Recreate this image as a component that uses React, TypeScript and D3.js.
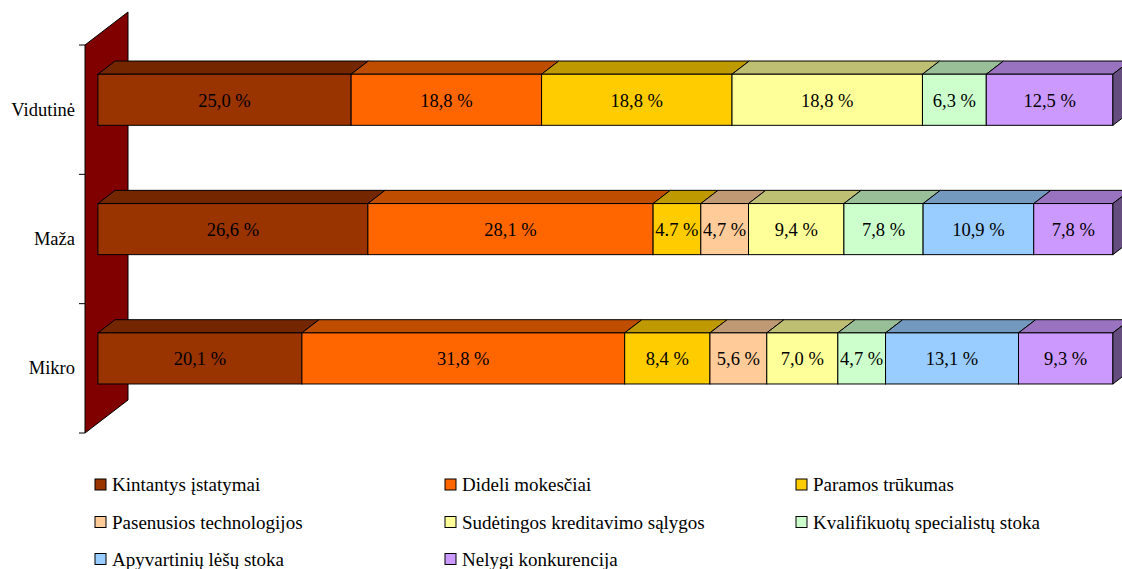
import React from "react";
import * as d3 from "d3";

const categories = ["Vidutinė", "Maža", "Mikro"];
const seriesNames = [
  "Kintantys įstatymai",
  "Dideli mokesčiai",
  "Paramos trūkumas",
  "Pasenusios technologijos",
  "Sudėtingos kreditavimo sąlygos",
  "Kvalifikuotų specialistų stoka",
  "Apyvartinių lėšų stoka",
  "Nelygi konkurencija",
];
const seriesColors = ["#993300", "#FF6600", "#FFCC00", "#FFCC99", "#FFFF99", "#CCFFCC", "#99CCFF", "#CC99FF"];

const valuesVidutine = [25.0, 18.8, 18.8, 0, 18.8, 6.3, 0, 12.5];
const valuesMaza = [26.6, 28.1, 4.7, 4.7, 9.4, 7.8, 10.9, 7.8];
const valuesMikro = [20.1, 31.8, 8.4, 5.6, 7.0, 4.7, 13.1, 9.3];

const labelsVidutine = ["25,0 %", "18,8 %", "18,8 %", "", "18,8 %", "6,3 %", "", "12,5 %"];
const labelsMaza = ["26,6 %", "28,1 %", "4.7 %", "4,7 %", "9,4 %", "7,8 %", "10,9 %", "7,8 %"];
const labelsMikro = ["20,1 %", "31,8 %", "8,4 %", "5,6 %", "7,0 %", "4,7 %", "13,1 %", "9,3 %"];

const rowValues = [valuesVidutine, valuesMaza, valuesMikro];
const rowLabels = [labelsVidutine, labelsMaza, labelsMikro];

const FONT = "'Liberation Serif', 'Times New Roman', serif";

function shade(c: string, k: number) {
  const r = d3.rgb(c);
  return d3.rgb(r.r * k, r.g * k, r.b * k).formatHex();
}

export default function App() {
  const W = 1122;
  const H = 569;
  const wallTop = 45;
  const wallBottom = 433;
  const x0 = 85;
  const x1 = 1100;
  const D = { dx: 43, dy: -33 };
  const f0 = 0.3, f1 = 0.7;

  const y = d3.scaleBand<string>().domain(categories).range([wallTop, wallBottom]).padding(0);
  const x = d3.scaleLinear().domain([0, 1]).range([x0, x1]);

  const tableRows = categories.map((c, i) => {
    const o: any = { cat: c };
    seriesNames.forEach((s, j) => (o[s] = rowValues[i][j]));
    return o;
  });
  const stack = d3.stack<any>().keys(seriesNames).offset(d3.stackOffsetExpand);
  const stacked = stack(tableRows);

  const barH = y.bandwidth() * 0.395;
  const fx = D.dx * f0, fy = D.dy * f0;
  const bdx = D.dx * (f1 - f0), bdy = D.dy * (f1 - f0);

  const bars: React.ReactNode[] = [];
  const labels: React.ReactNode[] = [];
  categories.forEach((cat, i) => {
    const cy = (y(cat) as number) + y.bandwidth() / 2 + fy;
    const top = cy - barH / 2;
    const bot = cy + barH / 2;
    let lastIdx = -1;
    seriesNames.forEach((_, j) => {
      if (rowValues[i][j] > 0) lastIdx = j;
    });
    seriesNames.forEach((s, j) => {
      if (rowValues[i][j] <= 0) return;
      const seg = stacked[j][i];
      const xa = x(seg[0]) + fx;
      const xb = x(seg[1]) + fx;
      const col = seriesColors[j];
      bars.push(
        <g key={`b${i}-${j}`}>
          <polygon
            points={`${xa},${top} ${xb},${top} ${xb + bdx},${top + bdy} ${xa + bdx},${top + bdy}`}
            fill={shade(col, 0.75)}
            stroke="#000"
            strokeWidth={1}
            strokeLinejoin="round"
          />
          <rect x={xa} y={top} width={xb - xa} height={bot - top} fill={col} stroke="#000" strokeWidth={1} />
          {j === lastIdx && (
            <polygon
              points={`${xb},${top} ${xb + bdx},${top + bdy} ${xb + bdx},${bot + bdy} ${xb},${bot}`}
              fill={shade(col, 0.5)}
              stroke="#000"
              strokeWidth={1}
              strokeLinejoin="round"
            />
          )}
        </g>
      );
      labels.push(
        <text
          key={`l${i}-${j}`}
          x={(xa + xb) / 2}
          y={cy + 1}
          textAnchor="middle"
          dominantBaseline="central"
          style={{ fontFamily: FONT, fontSize: "18.5px" }}
          fill="#000"
        >
          {rowLabels[i][j]}
        </text>
      );
    });
  });

  const tickYs = [wallTop, ...categories.map((c) => (y(c) as number) + y.bandwidth())];

  const legendCols = [95, 445, 796];
  const legendRows = [484.5, 522, 559];

  return (
    <svg width={W} height={H} style={{ position: "absolute", left: 0, top: 0, background: "#fff" }}>
      <polygon
        points={`${x0},${wallTop} ${x0 + D.dx},${wallTop + D.dy} ${x0 + D.dx},${wallBottom + D.dy} ${x0},${wallBottom}`}
        fill="#800000"
        stroke="#000"
        strokeWidth={1}
      />
      {tickYs.map((t, k) => (
        <line key={`t${k}`} x1={x0 - 6} x2={x0} y1={t} y2={t} stroke="#000" strokeWidth={1} />
      ))}
      {categories.map((c) => (
        <text
          key={`c${c}`}
          x={x0 - 10}
          y={(y(c) as number) + y.bandwidth() / 2}
          textAnchor="end"
          dominantBaseline="central"
          style={{ fontFamily: FONT, fontSize: "18.5px" }}
          fill="#000"
        >
          {c}
        </text>
      ))}
      {bars}
      {labels}
      {seriesNames.map((s, j) => {
        const lx = legendCols[j % 3];
        const ly = legendRows[Math.floor(j / 3)];
        return (
          <g key={`lg${j}`}>
            <rect x={lx} y={ly - 5.5} width={11} height={11} fill={seriesColors[j]} stroke="#000" strokeWidth={1} />
            <text x={lx + 17} y={ly} dominantBaseline="central" style={{ fontFamily: FONT, fontSize: "19px" }} fill="#000">
              {s}
            </text>
          </g>
        );
      })}
    </svg>
  );
}
